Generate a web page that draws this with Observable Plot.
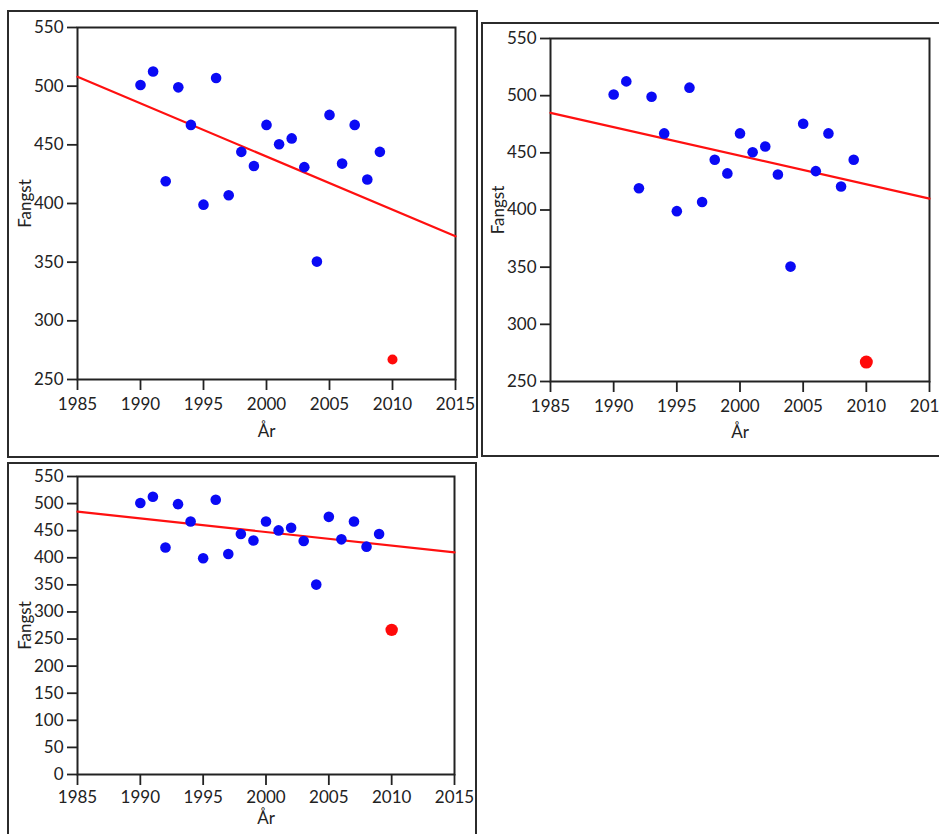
<!DOCTYPE html>
<html><head><meta charset="utf-8">
<script src="https://cdn.jsdelivr.net/npm/d3@7"></script>
<script src="https://cdn.jsdelivr.net/npm/@observablehq/plot@0.6"></script>
<style>
html,body{margin:0;padding:0;background:#fff;overflow:hidden;width:939px;height:834px;}
#page{position:relative;width:939px;height:834px;overflow:hidden;}
.panel{position:absolute;}
.panel svg{display:block;}
.box{position:absolute;border:2px solid #2b2b2b;box-sizing:border-box;pointer-events:none;}
</style></head><body><div id="page"></div>
<script>
// Data
const years = [1990, 1991, 1992, 1993, 1994, 1995, 1996, 1997, 1998, 1999, 2000, 2001, 2002, 2003, 2004, 2005, 2006, 2007, 2008, 2009];
const fangst = [501, 512.5, 419, 499, 467, 399, 507, 407, 444, 432, 467, 450.5, 455.5, 431, 350.5, 475.5, 434, 467, 420.5, 444];
const outlierYears = [2010];
const outlierFangst = [267];
const fitYears = [1985, 2015];
const fitWithOutlier = [508, 372];
const fitWithoutOutlier = [485, 410];
const xTicks = [1985, 1990, 1995, 2000, 2005, 2010, 2015];
const yTicksZoom = [250, 300, 350, 400, 450, 500, 550];
const yTicksFull = [0, 50, 100, 150, 200, 250, 300, 350, 400, 450, 500, 550];

const points = years.map((x, i) => ({x, y: fangst[i]}));
const outlier = outlierYears.map((x, i) => ({x, y: outlierFangst[i]}));
const fitA = fitYears.map((x, i) => ({x, y: fitWithOutlier[i]}));
const fitB = fitYears.map((x, i) => ({x, y: fitWithoutOutlier[i]}));

const page = document.getElementById("page");
const FONT = "Lato, 'Open Sans', sans-serif";

function panel(cfg) {
  const chart = Plot.plot({
    width: cfg.width, height: cfg.height,
    marginLeft: cfg.ml, marginRight: cfg.mr, marginTop: cfg.mt, marginBottom: cfg.mb,
    style: {fontFamily: FONT, fontSize: "17px", color: "#222", background: "transparent", overflow: "visible"},
    x: {domain: [1985, 2015]},
    y: {domain: [cfg.yMin, 550]},
    marks: [
      Plot.axisX({ticks: xTicks, tickFormat: d => String(d), tickSize: cfg.xTick, tickPadding: cfg.xPad,
        strokeWidth: 1.8, stroke: "#222", fontSize: 17,
        label: "År", labelAnchor: "center", labelOffset: cfg.xLabOff, labelArrow: "none"}),
      Plot.axisY({ticks: cfg.yTicks, tickFormat: d => String(d), tickSize: 10, tickPadding: 4,
        strokeWidth: 1.8, stroke: "#222", fontSize: 17,
        label: "Fangst", labelAnchor: "center", labelOffset: cfg.yLabOff, labelArrow: "none"}),
      Plot.frame({stroke: "#222", strokeWidth: 2}),
      Plot.line(cfg.fit, {x: "x", y: "y", stroke: "#ff1010", strokeWidth: 2.2}),
      Plot.dot(points, {x: "x", y: "y", r: 5.3, fill: "#0a0af5", stroke: "none"}),
      Plot.dot(outlier, {x: "x", y: "y", r: cfg.outR, fill: "#ff0a0a", stroke: "none"})
    ]
  });
  const div = document.createElement("div");
  div.className = "panel";
  div.style.left = cfg.left + "px";
  div.style.top = cfg.top + "px";
  div.appendChild(chart);
  page.appendChild(div);
  const box = document.createElement("div");
  box.className = "box";
  box.style.left = cfg.left + "px";
  box.style.top = cfg.top + "px";
  box.style.width = cfg.boxW + "px";
  box.style.height = cfg.boxH + "px";
  page.appendChild(box);
}

panel({left: 7, top: 10, width: 471, height: 448, boxW: 471, boxH: 448,
  ml: 70, mr: 23, mt: 17, mb: 79, yMin: 250, yTicks: yTicksZoom,
  xTick: 11, xPad: 7, xLabOff: 57, yLabOff: 59, fit: fitA, outR: 5});

panel({left: 481, top: 22, width: 458, height: 435, boxW: 470, boxH: 435,
  ml: 69, mr: 10, mt: 16, mb: 76, yMin: 250, yTicks: yTicksZoom,
  xTick: 11, xPad: 7, xLabOff: 56, yLabOff: 59, fit: fitB, outR: 6.5});

panel({left: 7, top: 462, width: 470, height: 372, boxW: 470, boxH: 380,
  ml: 70, mr: 23, mt: 14, mb: 60, yMin: 0, yTicks: yTicksFull,
  xTick: 11, xPad: 5, xLabOff: 49, yLabOff: 59, fit: fitB, outR: 6.2});
</script>
</body></html>
